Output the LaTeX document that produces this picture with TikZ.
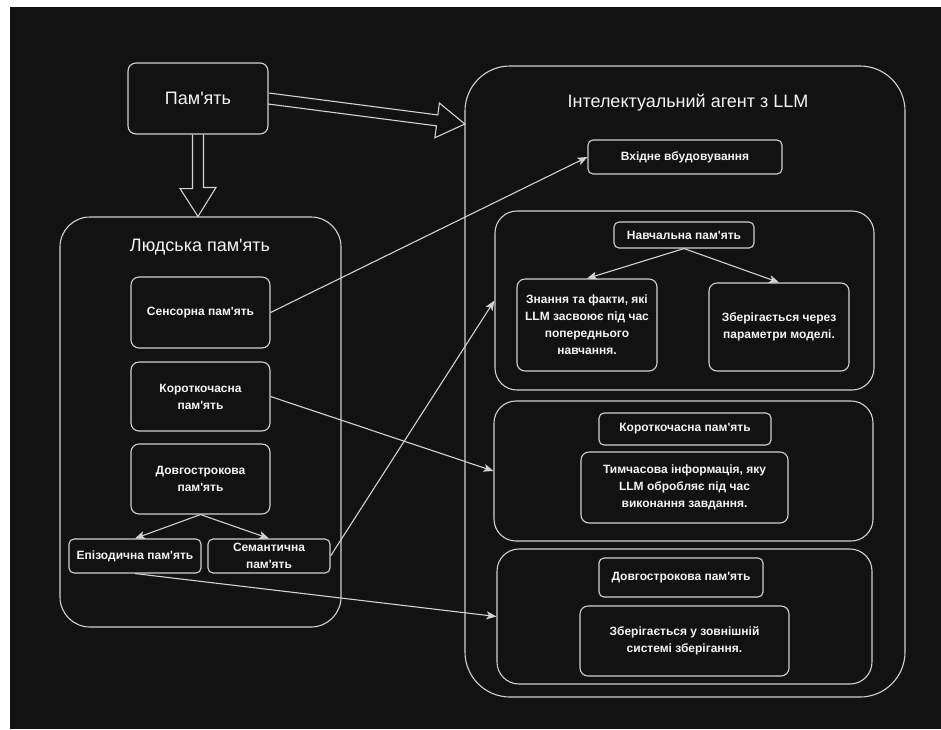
\documentclass[tikz,border=0pt]{standalone}
\usepackage{fontspec}
\setmainfont{Liberation Sans}[Ligatures=TeXOff]
\usepackage{tikz}
\usetikzlibrary{arrows.meta, calc}
\definecolor{bgdark}{HTML}{121212}
\definecolor{linegray}{HTML}{D2D2D2}
\definecolor{textwhite}{HTML}{F4F4F4}

\begin{document}
\begin{tikzpicture}[x=1pt, y=-1pt, line width=1.1pt,
    group/.style={draw=linegray, rounded corners=#1, fill=bgdark},
    card/.style={draw=linegray, rounded corners=8pt, fill=bgdark, text=textwhite,
                 align=center, inner sep=2pt, font=\fontsize{12}{17}\selectfont\bfseries},
    tag/.style={card, rounded corners=5pt},
    heading/.style={text=textwhite, font=\fontsize{18}{22}\selectfont},
    conn/.style={draw=linegray, -{Stealth[length=10pt, width=8pt, inset=2.5pt]}},
    blockarr/.style={draw=linegray, line join=miter},
]
    \useasboundingbox (0,0) rectangle (941,729);
    \fill[white] (0,0) rectangle (941,729);
    \fill[bgdark] (10,7) rectangle (941,729);

    % === memory ===
    \node[card, heading, minimum width=140pt, minimum height=71pt] (mem) at (198,98.5) {Пам'ять};

    % === human memory ===
    \node[group=30pt, minimum width=281pt, minimum height=410pt] (human) at (200.5,422) {};
    \node[heading] (htitle) at (200,247) {Людська пам'ять};
    \node[card, minimum width=139pt, minimum height=71pt] (sens) at (200.5,312.5) {Сенсорна пам'ять};
    \node[card, minimum width=139pt, minimum height=69pt] (short) at (200.5,396.5) {Короткочасна\\пам'ять};
    \node[card, minimum width=139pt, minimum height=70pt] (long) at (200.5,479) {Довгострокова\\пам'ять};
    \node[tag, minimum width=132pt, minimum height=34pt] (epi) at (135,556) {Епізодична пам'ять};
    \node[tag, minimum width=122pt, minimum height=34pt] (sem) at (269,556) {Семантична\\пам'ять};

    % === agent with LLM ===
    \node[group=45pt, minimum width=440pt, minimum height=631pt] (agent) at (685,381.5) {};
    \node[heading] (atitle) at (688,103) {Інтелектуальний агент з LLM};
    \node[tag, minimum width=194pt, minimum height=34pt] (inemb) at (685,157) {Вхідне вбудовування};

    \node[group=22pt, minimum width=379pt, minimum height=179pt] (trainc) at (684.5,300.5) {};
    \node[tag, minimum width=140pt, minimum height=26pt] (trainlbl) at (684,235) {Навчальна пам'ять};
    \node[card, minimum width=140pt, minimum height=92pt] (know) at (587,325) {Знання та факти, які\\LLM засвоює під час\\попереднього\\навчання.};
    \node[card, minimum width=140pt, minimum height=88pt] (store) at (779,327) {Зберігається через\\параметри моделі.};

    \node[group=22pt, minimum width=379pt, minimum height=140pt] (stc) at (683.5,471) {};
    \node[tag, minimum width=172pt, minimum height=32pt] (stlbl) at (685,429) {Короткочасна пам'ять};
    \node[card, minimum width=207pt, minimum height=71pt] (stinfo) at (684.5,487.5) {Тимчасова інформація, яку\\LLM обробляє під час\\виконання завдання.};

    \node[group=22pt, minimum width=375pt, minimum height=135pt] (ltc) at (684.5,616.5) {};
    \node[tag, minimum width=164pt, minimum height=39pt] (ltlbl) at (681,577.5) {Довгострокова пам'ять};
    \node[card, minimum width=209pt, minimum height=70pt] (ltinfo) at (684.5,641) {Зберігається у зовнішній\\системі зберігання.};

    % block arrows
    \draw[blockarr] ($(mem.south)+(-5.5,0)$) -- ++(0,54) -- ++(-12.5,0) -- (mem.south |- human.north)
        -- ++(18,-29) -- ++(-12.5,0) -- ($(mem.south)+(5.5,0)$);
    \begin{scope}[shift={(mem.east)}, rotate=-7.4]
        \draw[blockarr] (0,-5.5) -- (170,-5.5) -- (170,-17.5) -- (198,0) -- (170,17.5) -- (170,5.5) -- (0,5.5);
    \end{scope}

    % connectors
    \draw[conn] (long.south) -- (epi.north);
    \draw[conn] (long.south) -- (sem.north);
    \draw[conn] (trainlbl.south) -- (know.north);
    \draw[conn] (trainlbl.south) -- (store.north);
    \draw[conn] (sens.east) -- (inemb.west);
    \draw[conn] (short.east) -- (stc.west);
    \draw[conn] (sem.east) -- (trainc.west);
    \draw[conn] (epi.south) -- (ltc.west);
\end{tikzpicture}
\end{document}
